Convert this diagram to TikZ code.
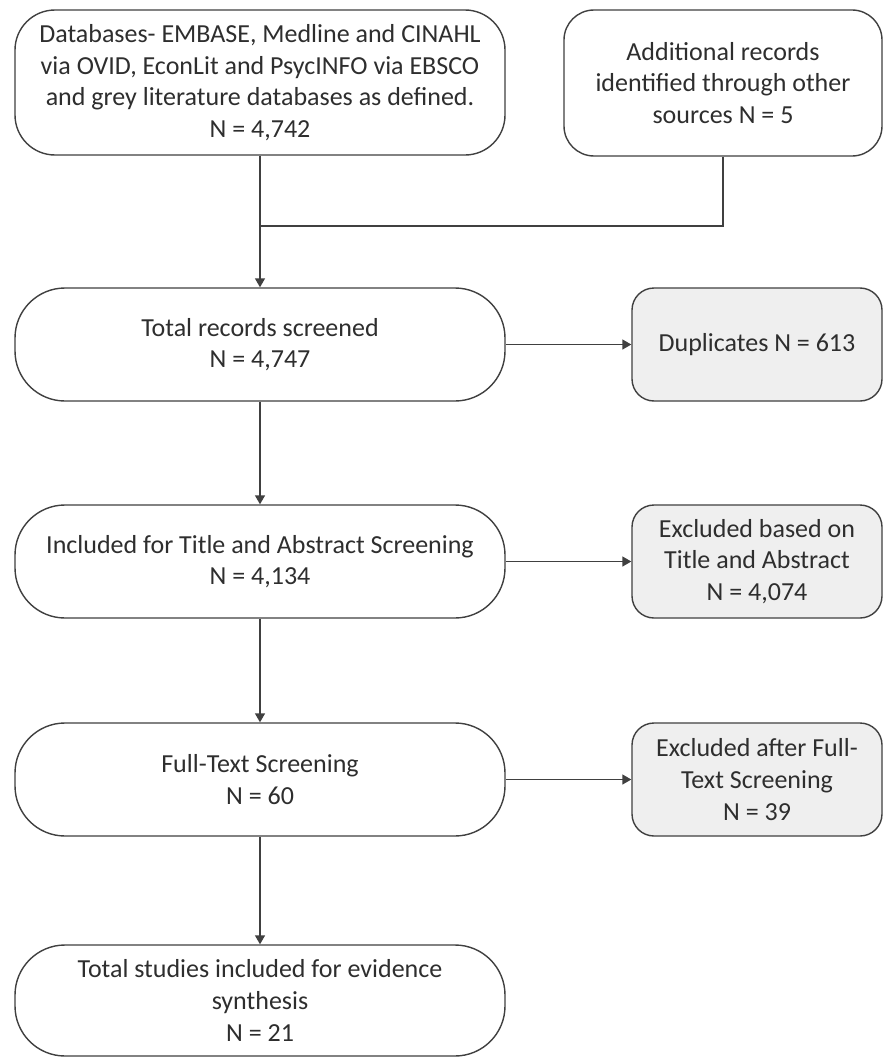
\documentclass[tikz,border=0pt]{standalone}
\usepackage{fontspec}
\setmainfont{Carlito}
\usetikzlibrary{arrows.meta}
\definecolor{linec}{HTML}{404040}
\definecolor{textc}{HTML}{2E2E2E}
\definecolor{boxgray}{HTML}{EFEFEF}
\begin{document}
\begin{tikzpicture}[x=1pt,y=-1pt,
  box/.style={draw=linec, line width=1.4pt, align=center, text=textc,
    font=\fontsize{26}{31.7}\selectfont, inner sep=0pt, fill=white},
  bigbox/.style={box, rounded corners=50pt, minimum width=490pt, minimum height=113pt},
  sidebox/.style={box, fill=boxgray, rounded corners=22pt, minimum width=250pt, minimum height=113pt},
  conn/.style={draw=linec, line width=1.4pt},
  arr/.style={conn, -{Triangle[length=9pt,width=10pt]}}]
\fill[white] (0,0) rectangle (884,1057);
\useasboundingbox (0,0) rectangle (884,1057);

\node[box, rounded corners=40pt, minimum width=490pt, minimum height=145pt] (b1) at (260,82.5)
  {Databases- EMBASE, Medline and CINAHL\\via OVID, EconLit and PsycINFO via EBSCO\\and grey literature databases as defined.\\N = 4,742};
\node[box, rounded corners=30pt, minimum width=318pt, minimum height=146pt] (b2) at (723,83)
  {Additional records\\identified through other\\sources N = 5};

\node[bigbox] (b3) at (260,344.5) {Total records screened\\N = 4,747};
\node[sidebox] (b4) at (757,344.5) {Duplicates N = 613};

\node[bigbox] (b5) at (260,561.5) {Included for Title and Abstract Screening\\N = 4,134};
\node[sidebox] (b6) at (757,561.5) {Excluded based on\\Title and Abstract\\N = 4,074};

\node[bigbox] (b7) at (260,779.5) {Full-Text Screening\\N = 60};
\node[sidebox] (b8) at (757,779.5) {Excluded after Full-\\Text Screening\\N = 39};

\node[bigbox, minimum height=111pt] (b9) at (260,1000.5)
  {Total studies included for evidence\\synthesis\\N = 21};

\coordinate (j) at (260,226);
\draw[conn] (b2.south) |- (j);
\draw[arr] (b1.south) -- (b3.north);
\draw[arr] (b3.east) -- (b4.west);
\draw[arr] (b3.south) -- (b5.north);
\draw[arr] (b5.east) -- (b6.west);
\draw[arr] (b5.south) -- (b7.north);
\draw[arr] (b7.east) -- (b8.west);
\draw[arr] (b7.south) -- (b9.north);
\end{tikzpicture}
\end{document}
